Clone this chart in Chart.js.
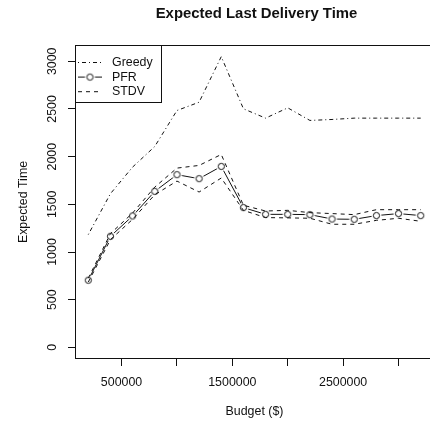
<!DOCTYPE html>
<html>
<head>
<meta charset="utf-8">
<script src="https://cdn.jsdelivr.net/npm/chart.js"></script>
<style>
  html, body { margin: 0; padding: 0; background: #fff; overflow: hidden; }
  #wrap { width: 440px; height: 424px; }
</style>
</head>
<body>
<div id="wrap"><canvas id="chart" width="440" height="424"></canvas></div>
<script>
// data
const budget = [200000, 400000, 600000, 800000, 1000000, 1200000, 1400000, 1600000,
                1800000, 2000000, 2200000, 2400000, 2600000, 2800000, 3000000, 3200000];
const greedy = [1183, 1612, 1891, 2107, 2484, 2571, 3049, 2502, 2404, 2512, 2380, 2390, 2404, 2404, 2404, 2404];
const pfr    = [704, 1165, 1378, 1636, 1811, 1769, 1898, 1466, 1395, 1395, 1392, 1346, 1343, 1382, 1403, 1382];
const stdvHi = [725, 1193, 1409, 1681, 1880, 1908, 2023, 1490, 1430, 1437, 1413, 1403, 1392, 1444, 1444, 1444];
const stdvLo = [685, 1130, 1343, 1601, 1744, 1629, 1776, 1437, 1361, 1358, 1354, 1291, 1291, 1332, 1354, 1322];

const xTicks = [500000, 1000000, 1500000, 2000000, 2500000, 3000000];
const xTickLabels = ['500000', '', '1500000', '', '2500000', ''];
const yTicks = [0, 500, 1000, 1500, 2000, 2500, 3000];

const FONT = 'Liberation Sans, Arial, Helvetica, sans-serif';
const INK = '#111';
Chart.defaults.font.family = FONT;
Chart.defaults.font.size = 12.4;
Chart.defaults.color = INK;

// open circle with a white halo, like R's type = "b"
function ringPoint() {
    const c = document.createElement('canvas');
    c.width = 13; c.height = 13;
    const g = c.getContext('2d');
    g.fillStyle = '#fff';
    g.beginPath(); g.arc(6.5, 6.5, 5, 0, Math.PI * 2); g.fill();
    g.strokeStyle = INK; g.lineWidth = 1;
    g.beginPath(); g.arc(6.5, 6.5, 3.1, 0, Math.PI * 2); g.stroke();
    return c;
}
const ring = ringPoint();

function pts(ys) {
    return budget.map((x, i) => ({ x: x, y: ys[i] }));
}

const dotdash = [1, 3, 4, 3];
const dashed = [4, 4];

// title, frame and legend drawn on top of the chart
const decor = {
    id: 'decor',
    afterDraw(chart) {
        const ctx = chart.ctx;
        const a = chart.chartArea;
        ctx.save();
        ctx.fillStyle = INK;
        ctx.font = 'bold 14.9px ' + FONT;
        ctx.textAlign = 'center';
        ctx.textBaseline = 'middle';
        ctx.fillText('Expected Last Delivery Time', (a.left + a.right) / 2 + 2, 14);

        ctx.strokeStyle = INK;
        ctx.lineWidth = 1;
        ctx.strokeRect(a.left + 0.5, a.top + 0.5, a.right - a.left - 1, a.bottom - a.top - 1);

        // legend box
        const lx = a.left + 0.5, ly = a.top + 0.5;
        ctx.strokeRect(lx, ly, 86, 57);
        const rows = [
            { label: 'Greedy', dash: dotdash, point: false },
            { label: 'PFR', dash: [], point: true },
            { label: 'STDV', dash: dashed, point: false }
        ];
        ctx.font = '12.4px ' + FONT;
        ctx.textAlign = 'left';
        rows.forEach((r, i) => {
            const y = 62.5 + i * 14.6;
            ctx.setLineDash(r.dash);
            ctx.beginPath();
            ctx.moveTo(78, y);
            ctx.lineTo(102, y);
            ctx.stroke();
            ctx.setLineDash([]);
            if (r.point) ctx.drawImage(ring, 90 - 6.5, y - 6.5);
            ctx.fillText(r.label, 112, y);
        });
        ctx.restore();
    }
};

new Chart(document.getElementById('chart'), {
    type: 'line',
    data: {
        datasets: [
            { label: 'Greedy', data: pts(greedy), borderColor: INK, borderWidth: 1,
              borderDash: dotdash, pointRadius: 0, order: 2 },
            { label: 'PFR', data: pts(pfr), borderColor: INK, borderWidth: 1,
              pointStyle: ring, pointRadius: 5, order: 3 },
            { label: 'STDV', data: pts(stdvHi), borderColor: INK, borderWidth: 1,
              borderDash: dashed, pointRadius: 0, order: 1 },
            { label: 'STDV', data: pts(stdvLo), borderColor: INK, borderWidth: 1,
              borderDash: dashed, pointRadius: 0, order: 1 }
        ]
    },
    options: {
        responsive: false,
        animation: false,
        tension: 0,
        layout: { padding: { top: 45, right: 5, bottom: 0, left: 0 } },
        plugins: { legend: { display: false }, tooltip: { enabled: false } },
        scales: {
            x: {
                type: 'linear',
                min: 80000,
                max: 3320000,
                afterBuildTicks: s => { s.ticks = xTicks.map(v => ({ value: v })); },
                afterFit: s => { s.height = 65; },
                border: { display: false },
                grid: { drawOnChartArea: false, drawTicks: true, tickLength: 7, color: INK },
                ticks: {
                    autoSkip: false, maxRotation: 0, padding: 9,
                    callback: v => xTickLabels[xTicks.indexOf(v)] || ''
                },
                title: { display: true, text: 'Budget ($)', padding: { top: 0, bottom: 4.5 } }
            },
            y: {
                min: -122,
                max: 3171,
                afterBuildTicks: s => { s.ticks = yTicks.map(v => ({ value: v })); },
                afterFit: s => { s.width = 75; },
                border: { display: false },
                grid: { drawOnChartArea: false, drawTicks: true, tickLength: 7, color: INK },
                ticks: {
                    minRotation: 90, maxRotation: 90, crossAlign: 'center', padding: 2,
                    callback: v => String(v)
                },
                title: { display: true, text: 'Expected Time', padding: { top: 16, bottom: 0 } }
            }
        }
    },
    plugins: [decor]
});
</script>
</body>
</html>
